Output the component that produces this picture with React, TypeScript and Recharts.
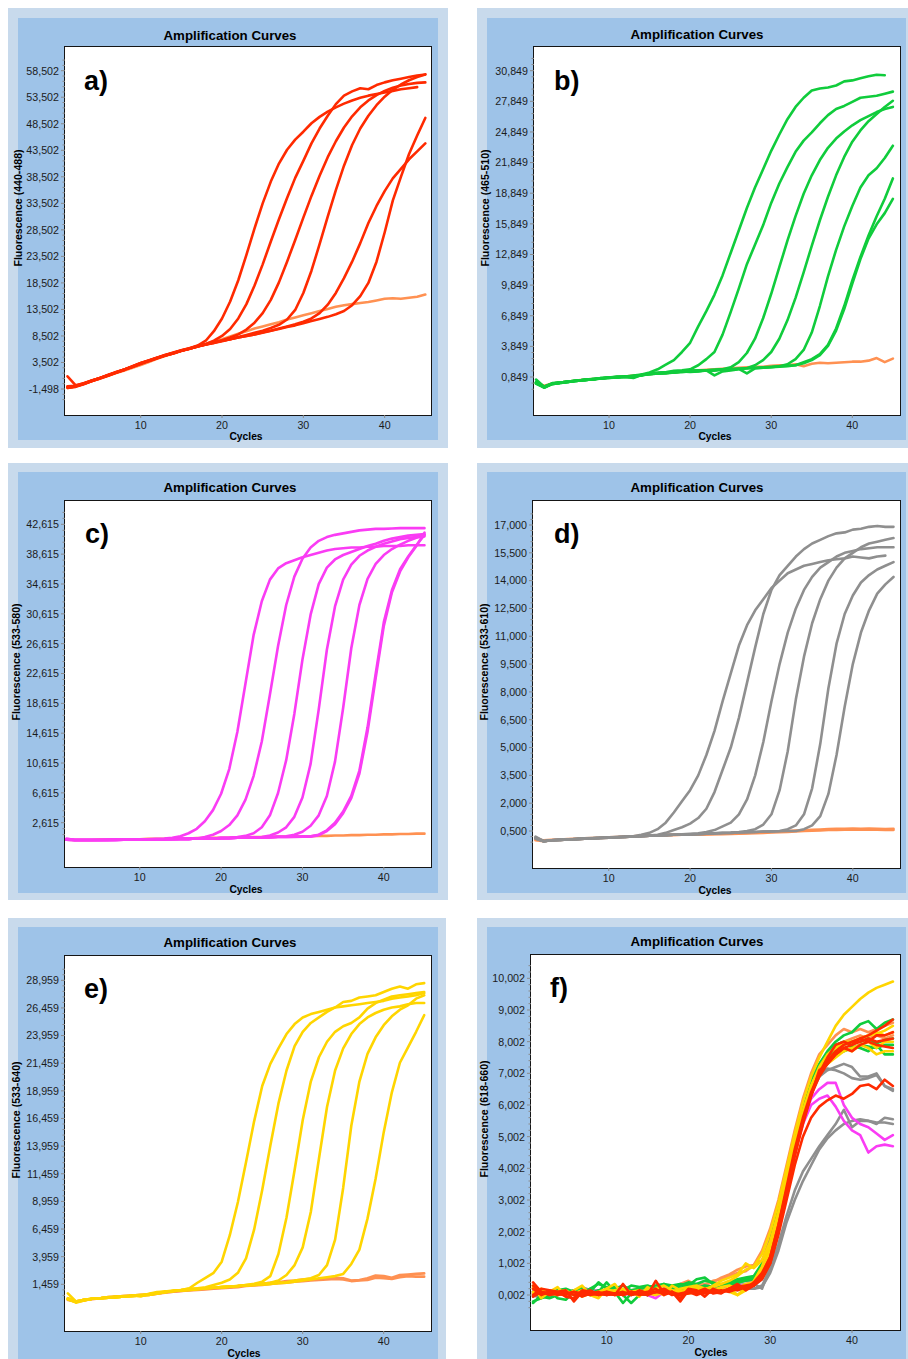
import React from 'react';
import { LineChart, Line, XAxis, YAxis } from 'recharts';

// ---------- shared categories ----------
const CYCLES = [1,2,3,4,5,6,7,8,9,10,11,12,13,14,15,16,17,18,19,20,21,22,23,24,25,26,27,28,29,30,31,32,33,34,35,36,37,38,39,40,41,42,43,44,45];
const X_TICKS = [10, 20, 30, 40];

// ---------- tick labels (values in thousands) ----------
const A_TICKS = [-1.498, 3.502, 8.502, 13.502, 18.502, 23.502, 28.502, 33.502, 38.502, 43.502, 48.502, 53.502, 58.502];
const B_TICKS = [0.849, 3.849, 6.849, 9.849, 12.849, 15.849, 18.849, 21.849, 24.849, 27.849, 30.849];
const C_TICKS = [2.615, 6.615, 10.615, 14.615, 18.615, 22.615, 26.615, 30.615, 34.615, 38.615, 42.615];
const D_TICKS = [0.5, 2.0, 3.5, 5.0, 6.5, 8.0, 9.5, 11.0, 12.5, 14.0, 15.5, 17.0];
const E_TICKS = [1.459, 3.959, 6.459, 8.959, 11.459, 13.959, 16.459, 18.959, 21.459, 23.959, 26.459, 28.959];
const F_TICKS = [0.002, 1.002, 2.002, 3.002, 4.002, 5.002, 6.002, 7.002, 8.002, 9.002, 10.002];

// ---------- panel a (440-488) ----------
const A_NTC = [-1.3,-1.0,-0.5,0.0,0.5,1.0,1.5,2.0,2.5,3.0, 3.6,4.2,4.7,5.2,5.7,6.1,6.5,7.0,7.5,7.9, 8.4,8.9,9.4,9.9,10.3,10.7,11.1,11.6,12.0,12.4, 12.8,13.2,13.6,14.0,14.3,14.5,14.7,14.9,15.2,15.5, 15.6,15.5,15.7,15.9,16.3];
const A_R1 = [-1.0,-0.9,-0.4,0.1,0.6,1.2,1.7,2.2,2.8,3.4, 3.9,4.4,4.9,5.4,5.8,6.2,6.7,7.6,9.4,11.8, 15.0,19.0,23.8,28.8,33.5,37.6,41.0,43.6,45.5,47.0, 48.6,49.8,50.8,51.6,52.3,52.9,53.4,53.8,54.1,54.4, 54.7,55.0,55.2,55.4,null];
const A_R2 = [-1.2,-1.0,-0.5,0.0,0.5,1.1,1.6,2.2,2.7,3.3, 3.9,4.4,4.8,5.3,5.7,6.1,6.6,7.0,7.6,8.5, 9.8,11.8,14.5,18.0,22.0,26.3,30.5,34.5,38.3,41.5, 44.8,47.6,50.0,52.2,53.8,54.6,55.2,55.0,55.8,56.3, 56.7,57.0,57.3,57.6,57.8];
const A_R3 = [-1.3,-1.1,-0.6,0.0,0.5,1.0,1.6,2.1,2.7,3.2, 3.8,4.3,4.8,5.2,5.7,6.1,6.5,6.9,7.3,7.7, 8.2,8.8,9.7,11.0,12.8,15.3,18.6,22.5,26.6,30.8, 34.9,38.7,42.2,45.2,47.8,49.9,51.6,52.9,53.9,54.7, 55.3,55.7,56.0,56.2,56.3];
const A_R4 = [-1.1,-1.0,-0.5,0.1,0.6,1.1,1.6,2.1,2.7,3.3, 3.8,4.3,4.8,5.3,5.7,6.1,6.5,6.9,7.2,7.6, 7.9,8.3,8.7,9.1,9.5,10.0,10.6,11.6,13.4,16.6, 20.8,25.8,31.0,36.0,40.6,44.5,47.6,50.0,52.0,53.6, 54.9,55.9,56.7,57.3,57.8];
const A_R5 = [-1.2,-1.0,-0.5,0.0,0.6,1.1,1.6,2.2,2.7,3.3, 3.8,4.3,4.8,5.2,5.7,6.1,6.5,6.9,7.2,7.5, 7.9,8.2,8.5,8.8,9.2,9.5,9.9,10.3,10.7,11.2, 11.8,12.8,14.4,16.6,19.4,22.5,26.0,29.8,33.0,35.8, 38.2,40.0,41.8,43.3,44.8];
const A_R6 = [0.9,-0.8,-0.4,0.1,0.6,1.1,1.7,2.2,2.8,3.4, 3.9,4.4,4.9,5.3,5.8,6.2,6.6,6.9,7.3,7.6, 7.9,8.2,8.5,8.8,9.1,9.5,9.8,10.2,10.5,10.9, 11.3,11.7,12.1,12.6,13.2,14.3,16.0,18.5,22.5,28.0, 34.0,38.5,42.8,46.3,49.6];

// ---------- panel b (465-510) ----------
const B_NTC = [0.3,0.0,0.2,0.3,0.4,0.5,0.6,0.65,0.7,0.8, 0.85,0.9,1.0,1.05,1.15,1.2,1.25,1.3,1.4,1.45, 1.5,1.55,1.6,1.65,1.7,1.75,1.8,1.85,1.85,1.95, 2.0,2.0,2.1,1.9,2.15,2.25,2.2,2.25,2.3,2.35, 2.35,2.45,2.7,2.3,2.65];
const B_G1 = [0.6,-0.1,0.2,0.3,0.4,0.45,0.55,0.6,0.7,0.8, 0.85,0.9,1.0,1.1,1.3,1.6,2.05,2.5,3.3,4.2, 5.8,7.3,8.9,10.8,13.0,15.2,17.4,19.4,21.2,23.0, 24.6,26.1,27.3,28.2,28.9,29.1,29.2,29.4,29.8,29.9, 30.1,30.3,30.45,30.4,null];
const B_G2 = [0.2,-0.2,0.15,0.3,0.35,0.5,0.55,0.65,0.7,0.75, 0.8,0.85,0.75,1.05,1.2,1.25,1.3,1.45,1.5,1.6, 2.0,2.6,3.3,5.0,7.2,9.5,11.9,13.8,15.7,17.9, 19.8,21.4,22.9,24.0,24.8,25.7,26.5,27.1,27.4,27.8, 28.2,28.3,28.4,28.6,28.8];
const B_G3 = [0.3,-0.15,0.2,0.25,0.4,0.45,0.6,0.6,0.75,0.8, 0.8,0.9,0.9,1.0,1.15,1.2,1.2,1.3,1.35,1.4, 1.45,1.5,1.5,1.6,1.8,2.3,3.2,4.6,6.6,9.0, 11.6,14.2,16.6,18.8,20.6,22.1,23.3,24.2,24.9,25.5, 26.0,26.4,26.8,27.1,27.3];
const B_G4 = [0.25,-0.1,0.25,0.3,0.35,0.5,0.5,0.65,0.7,0.8, 0.9,0.85,0.8,1.1,1.1,1.2,1.25,1.3,1.4,1.35, 1.4,1.5,1.0,1.4,1.5,1.6,1.7,2.0,2.5,3.3, 4.6,6.4,8.6,11.1,13.7,16.2,18.5,20.6,22.4,23.9, 25.0,25.9,26.6,27.3,27.9];
const B_G5 = [0.35,-0.2,0.2,0.3,0.4,0.5,0.55,0.6,0.7,0.75, 0.85,0.9,0.95,1.0,1.2,1.25,1.3,1.35,1.4,1.45, 1.5,1.5,1.55,1.6,1.6,1.65,1.2,1.7,1.75,1.8, 1.9,2.1,2.6,3.5,5.2,7.8,10.7,13.3,15.6,17.6, 19.4,20.6,21.3,22.3,23.5];
const B_G6 = [0.2,-0.15,0.15,0.3,0.4,0.45,0.6,0.65,0.7,0.8, 0.85,0.9,0.95,1.05,1.2,1.2,1.25,1.35,1.35,1.4, 1.45,1.5,1.55,1.55,1.6,1.65,1.7,1.75,1.8,1.85, 1.9,1.95,2.0,2.3,2.6,3.1,4.0,5.6,7.8,10.3, 12.6,14.7,16.6,18.3,20.3];
const B_G7 = [0.3,-0.1,0.2,0.3,0.4,0.5,0.55,0.6,0.75,0.8, 0.8,0.85,0.9,1.05,1.15,1.2,1.3,1.3,1.4,1.45, 1.45,1.5,1.5,1.6,1.6,1.65,1.7,1.7,1.75,1.8, 1.85,1.9,2.0,2.2,2.5,3.0,3.9,5.4,7.5,10.0, 12.4,14.4,15.8,16.9,18.3];

// ---------- panel c (533-580) ----------
const C_NTC = [0.35,0.3,0.3,0.3,0.35,0.35,0.35,0.4,0.4,0.4, 0.45,0.45,0.45,0.5,0.5,0.5,0.55,0.55,0.6,0.6, 0.6,0.65,0.65,0.7,0.7,0.7,0.75,0.75,0.75,0.8, 0.8,0.85,0.85,0.9,0.9,0.95,0.95,1.0,1.0,1.05, 1.05,1.1,1.1,1.15,1.15];
const C_M1 = [0.5,0.3,0.3,0.3,0.3,0.35,0.35,0.35,0.4,0.4, 0.4,0.45,0.5,0.6,0.8,1.2,1.8,2.8,4.3,6.5, 9.8,14.8,21.3,27.8,32.3,35.2,36.7,37.4,37.8,38.2, 38.5,38.8,39.1,39.3,39.4,39.5,39.5,39.6,39.6,39.7, 39.7,39.7,39.8,39.8,39.8];
const C_M2 = [0.4,0.3,0.3,0.3,0.3,0.3,0.35,0.35,0.35,0.4, 0.4,0.4,0.4,0.45,0.45,0.45,0.5,0.7,1.0,1.5, 2.3,3.6,5.7,8.9,13.5,19.8,26.3,31.8,35.6,38.0, 39.5,40.4,40.9,41.2,41.4,41.6,41.8,41.9,42.0,42.0, 42.05,42.1,42.1,42.1,42.1];
const C_M3 = [0.35,0.3,0.3,0.3,0.3,0.3,0.35,0.35,0.35,0.4, 0.4,0.4,0.4,0.45,0.45,0.45,0.5,0.5,0.5,0.55, 0.6,0.7,0.85,1.2,2.0,3.6,6.6,11.0,17.2,24.5, 30.5,34.6,36.8,37.9,38.5,38.9,39.3,39.7,40.0,40.4, 40.7,40.9,41.1,41.2,41.3];
const C_M4 = [0.35,0.3,0.3,0.3,0.3,0.3,0.3,0.35,0.35,0.35, 0.4,0.4,0.4,0.45,0.45,0.45,0.5,0.5,0.5,0.55, 0.55,0.6,0.6,0.65,0.7,0.9,1.3,2.0,3.4,6.0, 10.5,17.8,25.8,31.6,35.2,37.2,38.4,39.1,39.6,40.0, 40.3,40.6,40.8,40.9,41.0];
const C_M5 = [0.35,0.3,0.3,0.3,0.3,0.3,0.3,0.35,0.35,0.35, 0.4,0.4,0.4,0.4,0.45,0.45,0.5,0.5,0.5,0.55, 0.55,0.6,0.6,0.6,0.65,0.7,0.75,0.8,1.0,1.4, 2.2,3.6,6.2,10.8,18.0,26.0,31.8,35.3,37.3,38.5, 39.3,39.9,40.4,40.8,41.2];
const C_M6 = [0.35,0.3,0.3,0.3,0.3,0.3,0.3,0.35,0.35,0.35, 0.4,0.4,0.4,0.4,0.45,0.45,0.5,0.5,0.5,0.55, 0.55,0.6,0.6,0.6,0.65,0.65,0.7,0.7,0.75,0.75, 0.8,1.0,1.6,2.6,4.1,6.2,9.6,15.4,22.6,29.5, 33.8,36.6,38.3,39.8,41.2];
const C_M7 = [0.4,0.3,0.3,0.3,0.3,0.3,0.3,0.35,0.35,0.35, 0.4,0.4,0.4,0.4,0.45,0.45,0.5,0.5,0.5,0.55, 0.55,0.6,0.6,0.6,0.65,0.65,0.7,0.7,0.7,0.75, 0.75,0.95,1.5,2.4,3.9,5.9,9.2,14.8,22.0,29.0, 33.5,36.3,38.2,39.7,41.5];

// ---------- panel d (533-610) ----------
const D_NTC1 = [0.0,-0.05,0.0,0.02,0.04,0.06,0.08,0.1,0.12,0.14, 0.16,0.18,0.2,0.22,0.24,0.26,0.28,0.29,0.3,0.31, 0.32,0.33,0.34,0.35,0.36,0.38,0.4,0.42,0.44,0.45, 0.47,0.5,0.52,0.54,0.56,0.58,0.6,0.62,0.62,0.63, 0.62,0.63,0.62,0.6,0.62];
const D_NTC2 = [0.05,0.0,0.02,0.04,0.06,0.08,0.1,0.12,0.14,0.16, 0.18,0.2,0.22,0.24,0.26,0.27,0.28,0.29,0.3,0.31, 0.31,0.32,0.33,0.33,0.34,0.35,0.37,0.38,0.4,0.42, 0.43,0.45,0.47,0.5,0.52,0.53,0.55,0.56,0.57,0.57, 0.58,0.57,0.57,0.56,0.56];
const D_D1 = [0.2,-0.05,0.0,0.03,0.05,0.07,0.1,0.12,0.14,0.16, 0.18,0.2,0.22,0.3,0.4,0.6,0.95,1.5,2.1,2.7, 3.5,4.6,5.9,7.5,9.0,10.5,11.6,12.4,13.0,13.6, 14.0,14.4,14.6,14.8,14.9,15.0,15.1,15.15,15.2,15.3, 15.25,15.2,15.3,15.35,null];
const D_D2 = [0.15,-0.05,0.0,0.02,0.05,0.07,0.09,0.11,0.13,0.15, 0.17,0.19,0.21,0.23,0.25,0.3,0.4,0.55,0.7,0.9, 1.2,1.7,2.6,3.8,5.0,6.6,8.5,10.4,12.2,13.5, 14.3,14.8,15.3,15.7,16.0,16.2,16.4,16.55,16.6,16.75, 16.8,16.9,16.95,16.9,16.9];
const D_D3 = [0.1,-0.05,0.0,0.02,0.04,0.06,0.08,0.1,0.12,0.14, 0.16,0.18,0.2,0.22,0.24,0.26,0.28,0.3,0.32,0.35, 0.38,0.45,0.55,0.75,0.95,1.4,2.2,3.5,5.3,7.5, 9.5,11.2,12.5,13.5,14.2,14.7,15.0,15.3,15.5,15.6, 15.7,15.75,15.8,15.8,15.8];
const D_D4 = [0.1,-0.05,0.0,0.02,0.04,0.06,0.08,0.1,0.12,0.14, 0.16,0.18,0.2,0.22,0.24,0.26,0.28,0.3,0.31,0.32, 0.34,0.36,0.38,0.4,0.42,0.45,0.5,0.6,0.85,1.4, 2.7,4.8,7.6,9.9,11.7,13.0,14.0,14.7,15.2,15.5, 15.8,16.0,16.1,16.2,16.3];
const D_D5 = [0.15,-0.05,0.0,0.02,0.04,0.06,0.08,0.1,0.12,0.14, 0.16,0.18,0.2,0.22,0.24,0.26,0.28,0.3,0.31,0.32, 0.33,0.35,0.37,0.39,0.4,0.42,0.44,0.45,0.47,0.48, 0.5,0.6,0.8,1.4,2.8,5.2,8.2,10.6,12.2,13.2, 13.9,14.3,14.6,14.8,15.0];
const D_D6 = [0.1,-0.05,0.0,0.02,0.04,0.06,0.08,0.1,0.12,0.14, 0.16,0.18,0.2,0.22,0.24,0.26,0.28,0.3,0.31,0.32, 0.33,0.35,0.37,0.39,0.4,0.42,0.44,0.45,0.47,0.48, 0.49,0.5,0.5,0.6,0.8,1.3,2.5,4.6,7.2,9.5, 11.2,12.4,13.3,13.8,14.2];

// ---------- panel e (533-640) ----------
const E_NTC1 = [0.1,-0.15,0.0,0.15,0.2,0.25,0.35,0.4,0.45,0.5, 0.55,0.6,0.75,0.8,0.85,0.95,1.0,1.05,1.1,1.15, 1.2,1.3,1.35,1.4,1.5,1.6,1.65,1.75,1.8,1.9, 1.95,1.9,2.0,2.05,2.0,1.8,1.85,2.0,2.25,2.2, 2.05,2.3,2.35,2.4,2.45];
const E_NTC2 = [0.05,-0.1,0.05,0.1,0.2,0.3,0.35,0.4,0.4,0.45, 0.5,0.6,0.7,0.8,0.85,0.9,0.95,1.0,1.05,1.1, 1.15,1.2,1.3,1.35,1.4,1.5,1.55,1.6,1.7,1.75, 1.8,1.85,1.9,1.95,1.9,1.75,1.8,1.85,2.05,2.0, 1.95,2.1,2.2,2.15,2.15];
const E_Y1 = [0.64,-0.1,0.0,0.15,0.2,0.25,0.3,0.35,0.45,0.5, 0.55,0.7,0.8,0.85,0.95,1.1,1.6,2.05,2.5,3.5, 5.9,8.9,12.5,16.2,19.4,21.4,22.8,24.1,25.0,25.6, 25.9,26.1,26.3,26.5,26.6,26.7,26.8,26.9,27.0,27.1, 27.3,27.4,27.5,27.6,27.8];
const E_Y2 = [0.1,-0.2,0.0,0.15,0.2,0.3,0.35,0.4,0.45,0.35, 0.6,0.75,0.8,0.9,0.95,1.05,1.1,1.2,1.4,1.6, 1.9,2.5,3.8,6.4,10.0,14.0,17.8,20.8,23.0,24.3, 25.1,25.6,26.1,26.5,27.0,27.1,27.4,27.5,27.6,27.9, 28.2,28.4,28.2,28.6,28.7];
const E_Y3 = [0.2,-0.15,0.05,0.15,0.2,0.25,0.3,0.35,0.4,0.45, 0.55,0.65,0.8,0.85,0.95,1.0,1.05,1.1,1.15,1.2, 1.25,1.3,1.4,1.5,1.7,2.2,4.2,7.5,11.8,16.3, 19.8,22.0,23.4,24.3,24.8,25.1,25.6,26.4,26.9,27.2, 27.5,27.6,27.7,27.8,27.9];
const E_Y4 = [0.15,-0.1,0.05,0.15,0.2,0.25,0.3,0.35,0.4,0.45, 0.55,0.65,0.75,0.85,0.9,1.0,1.05,1.1,1.15,1.2, 1.25,1.3,1.4,1.45,1.5,1.6,1.8,2.3,3.2,4.8, 8.0,12.8,17.5,20.8,22.8,24.1,25.0,25.6,26.0,26.3, 26.5,26.6,26.8,26.9,26.9];
const E_Y5 = [0.1,-0.1,0.05,0.15,0.2,0.25,0.3,0.35,0.4,0.45, 0.5,0.65,0.75,0.85,0.9,0.95,1.05,1.1,1.15,1.2, 1.25,1.3,1.35,1.4,1.45,1.5,1.6,1.65,1.8,1.9, 2.0,2.3,3.2,5.5,10.2,15.8,19.8,22.3,23.8,24.9, 25.7,26.3,26.7,27.3,27.6];
const E_Y6 = [0.2,-0.1,0.05,0.15,0.2,0.25,0.3,0.35,0.4,0.45, 0.5,0.6,0.75,0.85,0.9,0.95,1.0,1.1,1.15,1.2, 1.25,1.3,1.35,1.4,1.45,1.5,1.55,1.6,1.7,1.8, 1.9,2.0,2.1,2.2,2.4,3.3,4.6,7.4,11.0,15.2, 18.8,21.5,22.9,24.3,25.8];

// ---------- panel f (618-660) ----------
const F_O1 = [0.2,0.05,0.1,0.15,0.1,0.0,0.15,0.1,0.05,0.1, 0.2,0.1,0.15,0.2,0.25,0.2,0.3,0.25,0.35,0.45, 0.3,0.35,0.4,0.55,0.65,0.8,0.9,0.95,1.4,2.1, 3.0,4.1,5.2,6.2,7.0,7.6,7.9,8.2,8.4,8.3, 8.4,8.3,8.4,8.5,8.6];
const F_O2 = [0.1,0.0,0.05,0.1,0.0,0.05,0.2,0.1,0.0,0.05, 0.1,0.05,0.1,0.15,0.1,0.2,0.15,0.3,0.2,0.3, 0.35,0.3,0.45,0.5,0.6,0.7,0.75,0.95,1.1,1.8, 2.8,3.9,5.0,6.0,6.8,7.3,7.6,7.9,8.0,8.1, 8.2,8.1,8.2,8.1,8.2];
const F_GR1 = [0.0,-0.1,0.05,0.0,0.1,0.05,0.2,0.1,0.05,0.15, 0.1,0.05,0.1,0.2,0.15,0.1,0.2,0.15,0.25,0.2, 0.3,0.25,0.2,0.25,0.3,0.35,0.3,0.35,0.2,0.9, 2.0,3.4,4.6,5.7,6.4,6.9,7.1,7.2,7.3,7.2, 6.9,6.9,7.0,6.6,6.5];
const F_GR2 = [0.1,0.0,-0.05,0.05,0.15,0.1,0.25,0.15,0.1,0.05, 0.2,0.1,0.15,0.05,0.2,0.1,0.15,0.2,0.1,0.25, 0.2,0.3,0.25,0.3,0.25,0.3,0.35,0.3,0.5,0.95, 2.1,3.3,4.5,5.6,6.4,6.9,7.15,7.1,7.0,6.85, 6.8,6.85,6.95,6.6,6.45];
const F_GR3 = [-0.05,0.05,0.1,0.0,0.05,0.15,0.1,0.2,0.1,0.05, 0.15,0.1,0.0,0.1,0.15,0.05,0.1,0.2,0.15,0.1, 0.2,0.15,0.25,0.2,0.15,0.25,0.2,0.2,0.3,0.8, 1.6,2.5,3.3,3.9,4.3,4.7,5.05,5.4,5.85,5.3, 5.5,5.5,5.4,5.6,5.55];
const F_GR4 = [0.05,-0.05,0.0,0.1,0.05,0.0,0.15,0.05,0.1,0.0, 0.05,0.15,0.1,0.05,0.0,0.1,0.05,0.15,0.1,0.2, 0.15,0.1,0.2,0.15,0.2,0.15,0.25,0.2,0.25,0.7, 1.4,2.3,3.0,3.6,4.1,4.6,4.95,5.2,5.4,5.5, 5.55,5.5,5.45,5.45,5.4];
const F_M1 = [0.1,0.0,0.05,0.15,0.1,0.05,0.0,0.1,0.15,0.05, 0.1,0.0,0.05,0.1,0.0,-0.1,0.1,0.05,0.15,0.1, 0.2,0.15,0.1,0.2,0.25,0.2,0.3,0.4,0.7,1.3, 2.3,3.4,4.5,5.4,6.0,6.2,6.3,5.95,5.5,5.2, 5.05,4.5,4.7,4.75,4.7];
const F_M2 = [0.05,0.1,0.0,0.1,0.05,0.15,0.05,0.0,0.1,0.2, 0.05,0.1,0.15,0.05,0.1,0.0,0.15,0.1,0.05,0.2, 0.15,0.1,0.25,0.2,0.3,0.25,0.35,0.45,0.75,1.4, 2.4,3.5,4.6,5.5,6.2,6.5,6.7,6.7,6.0,5.6, 5.4,5.3,5.1,4.9,5.05];
const F_G1 = [-0.2,-0.1,0.0,0.1,0.05,0.15,0.2,0.1,0.4,0.2, 0.25,0.15,0.3,0.25,0.3,0.2,0.35,0.3,0.35,0.3, 0.5,0.55,0.35,0.3,0.4,0.5,0.55,0.6,1.0,1.7, 2.7,3.9,5.0,6.0,6.8,7.3,7.7,8.0,8.2,8.3, 8.55,8.65,8.4,8.6,8.7];
const F_G2 = [0.1,-0.05,-0.1,0.0,0.1,0.05,0.0,0.05,0.15,0.1, 0.05,0.0,-0.25,0.0,0.05,0.1,0.15,0.1,0.2,0.25, 0.2,0.3,0.25,0.35,0.3,0.4,0.45,0.5,0.9,1.6, 2.6,3.8,4.9,5.9,6.6,7.1,7.5,7.9,8.0,7.85, 7.8,7.7,7.9,7.6,7.6];
const F_G3 = [0.0,0.1,0.05,0.15,0.2,0.1,0.05,0.2,0.35,0.25, 0.2,0.3,0.15,0.2,0.25,0.3,0.35,0.2,0.3,0.4, 0.35,0.45,0.4,0.3,0.35,0.45,0.5,0.55,0.85,1.5, 2.5,3.7,4.8,5.8,6.6,7.1,7.5,7.7,7.9,8.0, 8.0,8.1,7.95,8.05,8.1];
const F_G4 = [-0.25,0.0,0.15,-0.1,-0.15,0.1,0.25,0.0,0.1,0.4, 0.1,-0.25,0.05,0.15,0.0,0.2,0.1,0.3,0.2,0.35, 0.25,0.2,0.3,0.25,0.35,0.4,0.45,0.5,0.8,1.4, 2.4,3.6,4.7,5.7,6.5,7.0,7.4,7.6,7.7,7.8, 7.9,7.85,7.8,7.9,7.9];
const F_Y1 = [0.25,0.05,0.1,0.0,0.05,0.1,-0.05,0.05,0.1,0.2, 0.1,0.05,0.1,0.0,0.1,0.15,0.05,0.1,0.2,0.25, 0.3,0.2,0.25,0.35,0.45,0.6,0.8,0.9,1.3,2.0, 2.9,4.0,5.1,6.1,6.9,7.5,8.0,8.5,8.85,9.1, 9.35,9.55,9.7,9.8,9.9];
const F_Y2 = [0.1,0.2,0.05,0.1,0.15,0.0,0.1,0.05,0.0,0.1, 0.15,0.2,0.1,0.05,0.1,0.2,0.3,0.15,0.1,0.2, 0.25,0.15,0.3,0.45,0.55,0.65,1.0,0.85,1.1,1.7, 2.6,3.7,4.8,5.8,6.6,7.1,7.4,7.7,7.9,8.0, 8.1,8.2,8.25,8.35,8.5];
const F_Y3 = [0.3,-0.1,0.1,0.25,-0.05,0.15,0.3,0.0,-0.1,0.2, 0.35,0.0,0.1,-0.05,0.25,0.1,0.0,0.3,0.15,0.05, 0.1,0.2,0.15,0.25,0.3,0.2,0.35,0.4,0.8,1.5, 2.4,3.5,4.6,5.6,6.5,7.0,7.3,7.5,7.7,7.8, 7.9,7.8,7.6,7.7,7.7];
const F_Y4 = [0.05,0.1,0.15,0.05,0.1,0.0,0.05,0.1,0.0,0.05, 0.1,0.15,0.05,0.1,0.15,0.1,0.05,0.1,0.0,0.1, 0.15,0.1,0.2,0.1,0.25,0.0,0.15,0.45,0.9,1.6, 2.6,3.7,4.8,5.8,6.6,7.2,7.6,7.8,8.0,8.0, 8.1,8.2,8.3,8.2,8.3];
const F_Y5 = [0.2,0.15,0.05,0.0,0.1,0.05,0.15,0.0,0.05,0.1, 0.0,0.05,0.1,0.15,0.05,0.0,0.1,0.05,0.1,0.15, 0.2,0.1,0.15,0.2,0.1,0.0,0.25,0.3,0.7,1.4, 2.3,3.4,4.5,5.5,6.4,7.0,7.4,7.6,7.8,7.7, 7.9,8.0,7.8,8.0,8.0];
const F_R1 = [0.4,0.1,0.05,0.1,-0.05,-0.1,0.15,0.1,0.05,0.0, 0.05,0.0,0.1,0.05,0.0,0.45,0.05,0.1,-0.1,0.2, 0.15,-0.05,0.2,0.1,0.15,0.3,0.2,0.4,0.7,1.2, 2.2,3.4,4.6,5.6,6.4,7.0,7.4,7.7,7.9,8.0, 8.1,8.2,8.35,8.5,8.7];
const F_R2 = [0.0,0.2,0.15,0.1,0.15,-0.2,0.1,0.05,0.0,0.05, 0.0,0.35,0.0,0.05,0.1,0.2,0.0,0.1,-0.2,0.15, 0.1,0.2,0.05,0.1,0.2,0.35,0.15,0.3,0.6,1.1, 2.1,3.3,4.5,5.5,6.3,7.0,7.5,7.9,8.0,7.9, 8.1,8.0,8.2,8.2,8.3];
const F_R3 = [0.3,0.05,0.1,0.0,0.05,0.1,-0.05,0.05,0.1,0.0, 0.05,0.1,0.0,0.15,0.05,0.1,0.2,0.05,0.0,0.1, 0.05,0.15,0.1,0.05,0.2,0.25,0.3,0.35,0.65,1.2, 2.2,3.3,4.4,5.4,6.3,7.1,7.3,7.6,7.8,7.7, 7.9,8.0,7.9,7.85,7.8];
const F_R4 = [-0.05,0.1,0.0,0.05,0.1,0.0,0.05,0.15,0.0,0.1, 0.05,0.0,0.1,0.0,0.05,0.1,0.15,0.0,0.05,0.1, 0.0,0.1,0.15,0.1,0.2,0.15,0.25,0.3,0.55,1.0, 2.0,3.2,4.4,5.5,6.3,6.9,7.3,7.6,7.8,7.9, 8.0,8.1,8.0,8.05,8.1];
const F_R5 = [0.2,0.0,0.1,0.05,0.0,0.1,0.05,0.0,0.05,0.1, 0.0,0.05,0.1,0.05,0.0,0.1,0.05,0.1,0.0,0.05, 0.1,0.05,0.1,0.15,0.1,0.2,0.25,0.3,0.5,1.0, 1.9,3.0,4.1,5.0,5.6,5.95,6.15,6.3,6.2,6.35, 6.6,6.65,6.5,6.8,6.6];

// ---------- styles ----------
const RED = '#FF2A00';
const ORANGE = '#FF9152';
const GREEN = '#10CC3C';
const MAGENTA = '#FA3CF4';
const GRAY = '#8F8F8F';
const YELLOW = '#FFD500';
const LIGHT = '#C8DAEC';
const BLUE = '#9EC3E8';
const FONT = '"Liberation Sans", Arial, Helvetica, sans-serif';

type Series = { color: string; values: (number | null)[] };
type Box = [number, number, number, number];
type PanelDef = {
  letter: string;
  yLabel: string;
  outer: Box;
  inner: Box;
  plot: Box;
  xDomain: [number, number];
  yDomain: [number, number];
  majors: number[];
  series: Series[];
  titleC: [number, number];
  letterP: [number, number];
  yLabelC: [number, number];
  xLabelC: [number, number];
};

const PANELS: PanelDef[] = [
  {
    letter: 'a)', yLabel: 'Fluorescence (440-488)',
    outer: [8, 8, 440, 440], inner: [18, 18, 420, 422], plot: [65, 47, 366, 368],
    xDomain: [0.69, 45.7], yDomain: [-6.399, 62.969], majors: A_TICKS,
    series: [
      { color: ORANGE, values: A_NTC },
      { color: RED, values: A_R1 }, { color: RED, values: A_R2 }, { color: RED, values: A_R3 },
      { color: RED, values: A_R4 }, { color: RED, values: A_R5 }, { color: RED, values: A_R6 },
    ],
    titleC: [230, 35], letterP: [84, 90], yLabelC: [17.5, 208], xLabelC: [246, 436],
  },
  {
    letter: 'b)', yLabel: 'Fluorescence (465-510)',
    outer: [477, 8, 431, 440], inner: [487, 18, 419, 422], plot: [534, 47, 366, 368],
    xDomain: [0.75, 45.88], yDomain: [-2.873, 33.17], majors: B_TICKS,
    series: [
      { color: ORANGE, values: B_NTC },
      { color: GREEN, values: B_G1 }, { color: GREEN, values: B_G2 }, { color: GREEN, values: B_G3 },
      { color: GREEN, values: B_G4 }, { color: GREEN, values: B_G5 }, { color: GREEN, values: B_G6 },
      { color: GREEN, values: B_G7 },
    ],
    titleC: [697, 34], letterP: [554, 90], yLabelC: [484.5, 208], xLabelC: [715, 436],
  },
  {
    letter: 'c)', yLabel: 'Fluorescence (533-580)',
    outer: [8, 463, 440, 437], inner: [18, 472, 420, 421], plot: [65, 501, 366, 366],
    xDomain: [0.81, 45.8], yDomain: [-3.323, 45.74], majors: C_TICKS,
    series: [
      { color: ORANGE, values: C_NTC },
      { color: MAGENTA, values: C_M1 }, { color: MAGENTA, values: C_M2 }, { color: MAGENTA, values: C_M3 },
      { color: MAGENTA, values: C_M4 }, { color: MAGENTA, values: C_M5 }, { color: MAGENTA, values: C_M6 },
      { color: MAGENTA, values: C_M7 },
    ],
    titleC: [230, 487], letterP: [85, 543], yLabelC: [15.5, 662], xLabelC: [246, 889.5],
  },
  {
    letter: 'd)', yLabel: 'Fluorescence (533-610)',
    outer: [477, 463, 431, 437], inner: [487, 472, 419, 421], plot: [533, 501, 367, 367],
    xDomain: [0.69, 45.8], yDomain: [-1.495, 18.294], majors: D_TICKS,
    series: [
      { color: ORANGE, values: D_NTC1 }, { color: ORANGE, values: D_NTC2 },
      { color: GRAY, values: D_D1 }, { color: GRAY, values: D_D2 }, { color: GRAY, values: D_D3 },
      { color: GRAY, values: D_D4 }, { color: GRAY, values: D_D5 }, { color: GRAY, values: D_D6 },
    ],
    titleC: [697, 487], letterP: [554, 543], yLabelC: [484, 662], xLabelC: [715, 890],
  },
  {
    letter: 'e)', yLabel: 'Fluorescence (533-640)',
    outer: [8, 918, 438, 441], inner: [18, 927, 420, 432], plot: [65, 956, 366, 375],
    xDomain: [0.65, 45.84], yDomain: [-2.765, 31.157], majors: E_TICKS,
    series: [
      { color: ORANGE, values: E_NTC1 }, { color: ORANGE, values: E_NTC2 },
      { color: YELLOW, values: E_Y1 }, { color: YELLOW, values: E_Y2 }, { color: YELLOW, values: E_Y3 },
      { color: YELLOW, values: E_Y4 }, { color: YELLOW, values: E_Y5 }, { color: YELLOW, values: E_Y6 },
    ],
    titleC: [230, 942], letterP: [84, 998], yLabelC: [15.5, 1120], xLabelC: [244, 1353],
  },
  {
    letter: 'f)', yLabel: 'Fluorescence (618-660)',
    outer: [477, 918, 431, 441], inner: [487, 927, 419, 432], plot: [531, 955, 369, 375],
    xDomain: [0.75, 45.87], yDomain: [-1.103, 10.738], majors: F_TICKS,
    series: [
      { color: ORANGE, values: F_O1 }, { color: ORANGE, values: F_O2 },
      { color: GRAY, values: F_GR1 }, { color: GRAY, values: F_GR2 }, { color: GRAY, values: F_GR3 }, { color: GRAY, values: F_GR4 },
      { color: MAGENTA, values: F_M1 }, { color: MAGENTA, values: F_M2 },
      { color: GREEN, values: F_G1 }, { color: GREEN, values: F_G2 }, { color: GREEN, values: F_G3 }, { color: GREEN, values: F_G4 },
      { color: YELLOW, values: F_Y1 }, { color: YELLOW, values: F_Y2 }, { color: YELLOW, values: F_Y3 }, { color: YELLOW, values: F_Y4 }, { color: YELLOW, values: F_Y5 },
      { color: RED, values: F_R1 }, { color: RED, values: F_R2 }, { color: RED, values: F_R3 }, { color: RED, values: F_R4 }, { color: RED, values: F_R5 },
    ],
    titleC: [697, 941], letterP: [550, 997], yLabelC: [484, 1119], xLabelC: [711, 1352],
  },
];

const fmt = (v: number) => v.toFixed(3).replace('.', ',');

// major ticks plus 4 minor marks between them, half a step past each end
function allTicks(majors: number[]): number[] {
  const step = majors[1] - majors[0];
  const minor = step / 5;
  const out: number[] = [];
  for (let k = -2; k <= (majors.length - 1) * 5 + 2; k++) out.push(majors[0] + k * minor);
  return out;
}

function makeYTick(majors: number[]) {
  return (props: any) => {
    const { x, y, payload } = props;
    const isMajor = majors.some((m) => Math.abs(m - payload.value) < 1e-6);
    return (
      <g>
        <line x1={x - (isMajor ? 4 : 2.5)} x2={x} y1={y} y2={y} stroke="#8a8a8a" strokeWidth={1} />
        {isMajor && (
          <text x={x - 6} y={y} dy="0.36em" textAnchor="end" fontSize={10.7} fill="#1c1c1c" fontFamily={FONT}>
            {fmt(payload.value)}
          </text>
        )}
      </g>
    );
  };
}

const ML = 60, MT = 20, MR = 10, MB = 30;

function Panel({ p }: { p: PanelDef }) {
  const [px, py, pw, ph] = p.plot;
  const ticks = allTicks(p.majors);
  return (
    <>
      <div style={{ position: 'absolute', left: p.outer[0], top: p.outer[1], width: p.outer[2], height: p.outer[3], background: LIGHT }} />
      <div style={{ position: 'absolute', left: p.inner[0], top: p.inner[1], width: p.inner[2], height: p.inner[3], background: BLUE }} />
      <div style={{ position: 'absolute', left: px - 1, top: py - 1, width: pw + 2, height: ph + 2, background: '#fff', border: '1.5px solid #151515', boxSizing: 'border-box' }} />
      <div style={{ position: 'absolute', left: px - ML, top: py - MT }}>
        <LineChart width={pw + ML + MR} height={ph + MT + MB} margin={{ top: MT, right: MR, bottom: 0, left: 0 }}>
          <XAxis
            type="number" dataKey="x" domain={p.xDomain} ticks={X_TICKS} allowDataOverflow
            axisLine={false} tickLine={{ stroke: '#8a8a8a' }} tickSize={3} tickMargin={3.5} height={MB}
            tick={{ fontSize: 10.7, fill: '#1c1c1c', fontFamily: FONT }} interval={0}
          />
          <YAxis
            type="number" domain={p.yDomain} ticks={ticks} allowDataOverflow width={ML}
            axisLine={false} tickLine={false} tickSize={0} tickMargin={0} interval={0}
            tick={makeYTick(p.majors)}
          />
          {p.series.map((s, i) => (
            <Line
              key={i}
              data={CYCLES.map((c, j) => ({ x: c, y: s.values[j] })).filter((d) => d.y !== null && d.y !== undefined)}
              dataKey="y" type="linear" stroke={s.color} strokeWidth={2.6} dot={false} activeDot={false}
              isAnimationActive={false} strokeLinejoin="round" strokeLinecap="round"
            />
          ))}
        </LineChart>
      </div>
    </>
  );
}

export default function App() {
  return (
    <div style={{ position: 'absolute', left: 0, top: 0, width: 908, height: 1359, background: '#fff', overflow: 'hidden', fontFamily: FONT }}>
      {PANELS.map((p, i) => <Panel key={i} p={p} />)}
      <svg width={908} height={1359} style={{ position: 'absolute', left: 0, top: 0, pointerEvents: 'none' }}>
        {PANELS.map((p, i) => (
          <g key={i} fontFamily={FONT} fill="#000">
            <text x={p.titleC[0]} y={p.titleC[1]} textAnchor="middle" dominantBaseline="central" fontSize={13.3} fontWeight="bold">Amplification Curves</text>
            <text x={p.letterP[0]} y={p.letterP[1]} fontSize={27} fontWeight="bold">{p.letter}</text>
            <text x={p.yLabelC[0]} y={p.yLabelC[1]} textAnchor="middle" dominantBaseline="central" fontSize={10.6} fontWeight="bold" transform={`rotate(-90 ${p.yLabelC[0]} ${p.yLabelC[1]})`}>{p.yLabel}</text>
            <text x={p.xLabelC[0]} y={p.xLabelC[1]} textAnchor="middle" dominantBaseline="central" fontSize={10.3} fontWeight="bold">Cycles</text>
          </g>
        ))}
      </svg>
    </div>
  );
}
